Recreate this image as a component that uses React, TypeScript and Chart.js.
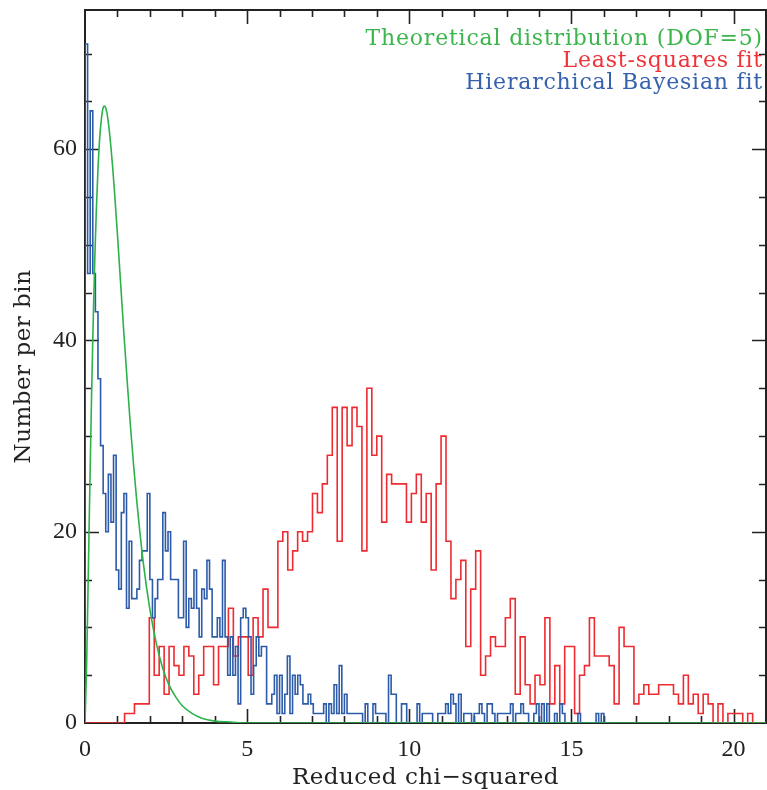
import React, { useEffect, useRef } from "react";
import { Chart, registerables } from "chart.js";

Chart.register(...registerables);

// Axis ranges and tick marks
const X_MIN = 0;
const X_MAX = 21;
const Y_MIN = 0;
const Y_MAX = 74.55;
const xTickValues = [0, 5, 10, 15, 20];
const yTickValues = [0, 20, 40, 60];
const xMinorStep = 1;
const yMinorStep = 5;

// Least-squares fit: reduced chi-squared histogram (counts per bin, bins start at 0)
const lsqBinWidth = 0.1525;
const lsqCounts = [
  8, 0, 0, 0, 0, 0, 0, 0, 0, 1, 1, 2, 2, 2,
  11, 5, 8, 3, 8, 6, 5, 8, 7, 3, 5, 8, 8, 4, 8, 8,
  12, 7, 9, 9, 5, 11, 9, 14, 10, 10,
  19, 20, 16, 18, 20, 19, 20, 24, 22, 25,
  28, 33, 19, 33, 29, 33, 31, 18, 35, 28,
  30, 21, 26, 25, 25, 25, 21, 24, 26, 21,
  24, 16, 25, 30, 19, 13, 15, 17, 8, 14,
  18, 5, 7, 9, 8, 8, 11, 13, 3, 9,
  4, 2, 5, 4, 11, 2, 6, 2, 8, 8,
  1, 5, 6, 11, 7, 7, 7, 6, 2, 10,
  8, 8, 2, 3, 4, 3, 3, 4, 4, 4,
  3, 2, 5, 2, 3, 1, 3, 2, 0, 2,
  0, 1, 1, 1, 0, 1, 0, 0,
];

// Hierarchical Bayesian fit: reduced chi-squared histogram
const hbBinWidth = 0.08;
const hbCounts = [
  36, 71, 47, 64, 47, 43, 36, 29, 24, 20,
  26, 21, 28, 16, 14, 22, 24, 12, 19, 13,
  13, 14, 17, 18, 18, 24, 15, 11, 13, 15,
  15, 22, 18, 20, 15, 15, 15, 11, 11, 19,
  10, 13, 12, 16, 12, 9, 14, 13, 17, 14,
  9, 9, 11, 9, 17, 9, 5, 9, 5, 8,
  2, 11, 12, 11, 9, 3, 6, 9, 7, 8,
  8, 2, 2, 3, 5, 1, 5, 1, 3, 7,
  1, 5, 3, 5, 4, 2, 2, 3, 2, 1,
  1, 1, 1, 2, 0, 2, 1, 4, 1, 6,
  1, 3, 1, 1, 1, 1, 1, 1, 0, 2,
  0, 0, 2, 1, 1, 1, 1, 0, 5, 3,
  3, 0, 0, 2, 2, 0, 0, 0, 0, 2,
  0, 1, 1, 1, 1, 0, 0, 1, 1, 1,
  2, 1, 3, 2, 0, 3, 0, 1, 1, 1,
  0, 1, 1, 2, 1, 0, 2, 2, 1, 0,
  1, 1, 1, 1, 1, 2, 0, 1, 1, 2,
  1, 1, 0, 0, 1, 2, 0, 2, 0, 2,
  0, 0, 1, 0, 2, 1, 0, 0, 0, 0,
  0, 1, 0, 0, 0, 0, 0, 0, 1, 0,
  1, 0,
];

// Theoretical curve (DOF=5), sampled along reduced chi-squared
const theoryX = [
  0, 0.05, 0.1, 0.15, 0.2, 0.25, 0.3, 0.35, 0.4, 0.45, 0.5, 0.55, 0.6, 0.65, 0.7,
  0.8, 0.9, 1.0, 1.1, 1.2, 1.3, 1.4, 1.5, 1.6, 1.8, 2.0, 2.2, 2.4, 2.6, 2.8, 3.0,
  3.3, 3.6, 4.0, 4.5, 5.0, 6.0, 21,
];
const theoryY = [
  0, 6.1, 15.3, 24.8, 33.8, 41.6, 48.3, 53.7, 57.9, 61.0, 63.0, 64.2, 64.5, 64.2, 63.3,
  60.2, 56.0, 51.1, 45.9, 40.7, 35.8, 31.1, 26.9, 23.1, 16.7, 11.9, 8.3, 5.7, 3.9, 2.7, 1.8,
  1.0, 0.5, 0.2, 0.1, 0.0, 0.0, 0,
];

const legendLabels = [
  "Theoretical distribution (DOF=5)",
  "Least-squares fit",
  "Hierarchical Bayesian fit",
];
const xTitle = "Reduced chi\u2212squared";
const yTitle = "Number per bin";

const GREEN = "#2db24b";
const RED = "#ee2b30";
const BLUE = "#2c5ba9";
const GREEN_TEXT = "#3cb54c";
const RED_TEXT = "#ef3339";
const BLUE_TEXT = "#3561ad";
const AXIS = "#222222";
const TEXT = "#222222";
const SERIF = "'DejaVu Serif', serif";
const TICK_FONT = "'Liberation Serif', serif";

// Outline points for a step histogram drawn with stepped: 'after'
function stepPoints(counts: number[], width: number) {
  const pts: { x: number; y: number }[] = [{ x: 0, y: 0 }];
  counts.forEach((c, i) => pts.push({ x: i * width, y: c }));
  const end = counts.length * width;
  pts.push({ x: end, y: counts[counts.length - 1] });
  pts.push({ x: end, y: 0 });
  return pts;
}

const framePlugin = {
  id: "frameAndText",
  beforeDatasetsDraw(chart: any) {
    const { ctx, chartArea: a, scales } = chart;
    const x = scales.x;
    const y = scales.y;
    ctx.save();
    ctx.strokeStyle = AXIS;
    ctx.lineWidth = 2;
    ctx.strokeRect(a.left, a.top, a.right - a.left, a.bottom - a.top);
    ctx.lineWidth = 1.6;
    ctx.beginPath();
    for (let v = X_MIN + xMinorStep; v < X_MAX; v += xMinorStep) {
      const px = Math.round(x.getPixelForValue(v)) + 0.5;
      const len = xTickValues.includes(v) ? 14 : 7;
      ctx.moveTo(px, a.bottom);
      ctx.lineTo(px, a.bottom - len);
      ctx.moveTo(px, a.top);
      ctx.lineTo(px, a.top + len);
    }
    for (let v = Y_MIN + yMinorStep; v < Y_MAX; v += yMinorStep) {
      const py = Math.round(y.getPixelForValue(v)) + 0.5;
      const len = yTickValues.includes(v) ? 14 : 7;
      ctx.moveTo(a.left, py);
      ctx.lineTo(a.left + len, py);
      ctx.moveTo(a.right, py);
      ctx.lineTo(a.right - len, py);
    }
    ctx.stroke();
    ctx.restore();
  },
  afterDraw(chart: any) {
    const { ctx, chartArea: a } = chart;
    ctx.save();
    // axis titles
    ctx.fillStyle = TEXT;
    ctx.font = `23px ${SERIF}`;
    ctx.letterSpacing = "0.5px";
    ctx.textAlign = "center";
    ctx.textBaseline = "alphabetic";
    ctx.fillText(xTitle, (a.left + a.right) / 2, 784);
    ctx.save();
    ctx.translate(30, (a.top + a.bottom) / 2);
    ctx.rotate(-Math.PI / 2);
    ctx.fillText(yTitle, 0, 0);
    ctx.restore();
    // legend
    ctx.font = `22px ${SERIF}`;
    ctx.letterSpacing = "0.8px";
    ctx.textAlign = "right";
    const colors = [GREEN_TEXT, RED_TEXT, BLUE_TEXT];
    const baselines = [45, 67, 89];
    legendLabels.forEach((label, i) => {
      ctx.fillStyle = colors[i];
      ctx.fillText(label, 763, baselines[i]);
    });
    ctx.restore();
  },
};

export default function App() {
  const ref = useRef<HTMLCanvasElement>(null);

  useEffect(() => {
    document.body.style.margin = "0";
    const canvas = ref.current;
    if (!canvas) return;
    const chart = new Chart(canvas, {
      type: "line",
      data: {
        datasets: [
          {
            label: legendLabels[0],
            data: theoryX.map((v, i) => ({ x: v, y: theoryY[i] })),
            borderColor: GREEN,
            borderWidth: 1.6,
            pointRadius: 0,
            fill: false,
            cubicInterpolationMode: "monotone",
          },
          {
            label: legendLabels[2],
            data: stepPoints(hbCounts, hbBinWidth),
            borderColor: BLUE,
            borderWidth: 1.6,
            pointRadius: 0,
            fill: false,
            stepped: "after",
          },
          {
            label: legendLabels[1],
            data: stepPoints(lsqCounts, lsqBinWidth),
            borderColor: RED,
            borderWidth: 1.6,
            pointRadius: 0,
            fill: false,
            stepped: "after",
          },
        ],
      },
      options: {
        animation: false,
        responsive: false,
        maintainAspectRatio: false,
        layout: { padding: { left: 0, right: 1, top: 10, bottom: 0 } },
        plugins: {
          legend: { display: false },
          tooltip: { enabled: false },
        },
        scales: {
          x: {
            type: "linear",
            min: X_MIN,
            max: X_MAX,
            grid: { display: false, drawTicks: false },
            border: { display: false },
            ticks: {
              color: TEXT,
              font: { family: TICK_FONT, size: 24 },
              padding: 12,
              maxRotation: 0,
            },
            afterBuildTicks: (s: any) => {
              s.ticks = xTickValues.map((v) => ({ value: v }));
            },
            afterFit: (s: any) => {
              s.height = 67;
              s.paddingLeft = 0;
              s.paddingRight = 0;
            },
          },
          y: {
            type: "linear",
            min: Y_MIN,
            max: Y_MAX,
            grid: { display: false, drawTicks: false },
            border: { display: false },
            ticks: {
              color: TEXT,
              font: { family: TICK_FONT, size: 24 },
              padding: 8,
            },
            afterBuildTicks: (s: any) => {
              s.ticks = yTickValues.map((v) => ({ value: v }));
            },
            afterFit: (s: any) => {
              s.width = 85;
              s.paddingTop = 0;
              s.paddingBottom = 0;
            },
          },
        },
      },
      plugins: [framePlugin],
    } as any);
    return () => chart.destroy();
  }, []);

  return <canvas ref={ref} width={767} height={790} style={{ display: "block" }} />;
}
